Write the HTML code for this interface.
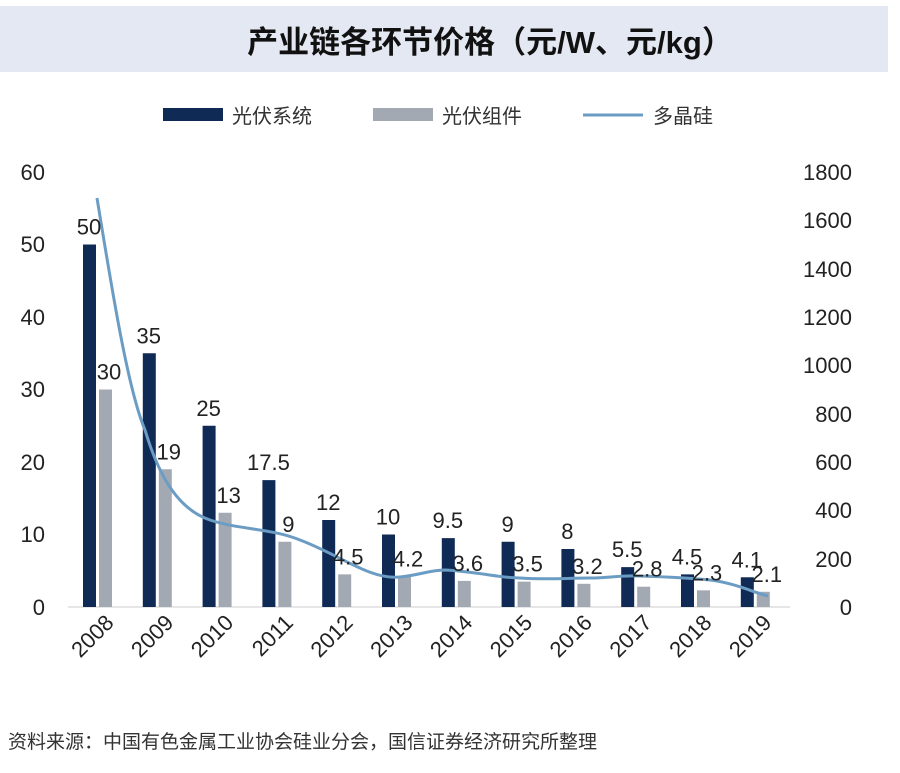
<!DOCTYPE html>
<html><head><meta charset="utf-8"><style>
body{margin:0;background:#fff;width:900px;height:768px;overflow:hidden}
text{font-family:"Liberation Sans","Noto Sans CJK SC",sans-serif}
</style></head><body>
<svg width="900" height="768" xmlns="http://www.w3.org/2000/svg">
<rect x="0" y="6" width="888" height="66" fill="#e3e8f2"/>
<text x="490" y="53" font-size="31" font-weight="bold" text-anchor="middle" fill="#111">产业链各环节价格（元/W、元/kg）</text>
<rect x="163" y="108" width="60" height="13" fill="#102a56"/>
<text x="232" y="123" font-size="20" fill="#333">光伏系统</text>
<rect x="373" y="108" width="60" height="13" fill="#a3a9b3"/>
<text x="442" y="123" font-size="20" fill="#333">光伏组件</text>
<line x1="583" y1="115" x2="643" y2="115" stroke="#6b9cc4" stroke-width="3"/>
<text x="653" y="123" font-size="20" fill="#333">多晶硅</text>
<g font-size="22" fill="#222">
<text x="45" y="180" text-anchor="end">60</text>
<text x="45" y="252" text-anchor="end">50</text>
<text x="45" y="325" text-anchor="end">40</text>
<text x="45" y="397" text-anchor="end">30</text>
<text x="45" y="470" text-anchor="end">20</text>
<text x="45" y="542" text-anchor="end">10</text>
<text x="45" y="615" text-anchor="end">0</text>
<text x="852" y="180" text-anchor="end">1800</text>
<text x="852" y="228" text-anchor="end">1600</text>
<text x="852" y="277" text-anchor="end">1400</text>
<text x="852" y="325" text-anchor="end">1200</text>
<text x="852" y="373" text-anchor="end">1000</text>
<text x="852" y="422" text-anchor="end">800</text>
<text x="852" y="470" text-anchor="end">600</text>
<text x="852" y="518" text-anchor="end">400</text>
<text x="852" y="567" text-anchor="end">200</text>
<text x="852" y="615" text-anchor="end">0</text>
</g>
<line x1="68" y1="607" x2="790" y2="607" stroke="#ccc" stroke-width="1"/>
<g id="bars"></g>
<path d="M97,198 C112,290 128,390 145,430 C160,480 180,510 210,520 C240,530 270,528 300,540 C340,555 370,580 400,577 C420,575 430,570 445,570 C480,572 500,578 520,578 C550,580 565,578 590,578 C610,578 620,575 640,576 C670,577 690,578 710,580 C735,583 755,593 768,596" fill="none" stroke="#6b9cc4" stroke-width="3"/>
<g id="labels" font-size="22" fill="#222" text-anchor="middle"></g>
<g id="xl" font-size="22" fill="#222"></g>
<text x="8" y="748" font-size="19" fill="#333">资料来源：中国有色金属工业协会硅业分会，国信证券经济研究所整理</text>
</svg>
<script>
var sys=[50,35,25,17.5,12,10,9.5,9,8,5.5,4.5,4.1],mod=[30,19,13,9,4.5,4.2,3.6,3.5,3.2,2.8,2.3,2.1];
var b=document.getElementById('bars'),l=document.getElementById('labels'),x=document.getElementById('xl'),ns='http://www.w3.org/2000/svg';
function el(p,t,a,tx){var e=document.createElementNS(ns,t);for(var k in a)e.setAttribute(k,a[k]);if(tx!=null)e.textContent=tx;p.appendChild(e);}
for(var i=0;i<12;i++){var x0=83+i*59.8;
var h1=sys[i]*7.25,h2=mod[i]*7.25;
el(b,'rect',{x:x0,y:607-h1,width:13,height:h1,fill:'#102a56'});
el(b,'rect',{x:x0+16,y:607-h2,width:13,height:h2,fill:'#a3a9b3'});
el(l,'text',{x:x0+6,y:607-h1-10},sys[i]);
el(l,'text',{x:x0+26,y:607-h2-10},mod[i]);
el(x,'text',{x:0,y:0,'text-anchor':'end',transform:'translate('+(x0+32)+',624) rotate(-45)'},2008+i);}
</script>
</body></html>
